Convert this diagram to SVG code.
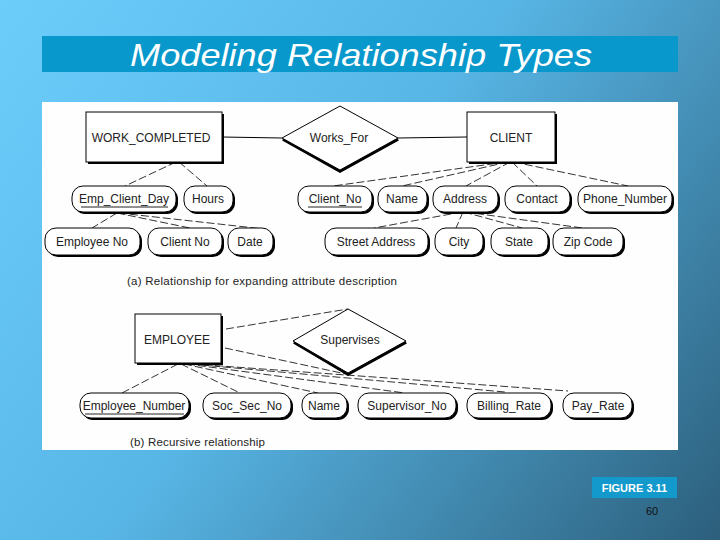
<svg xmlns="http://www.w3.org/2000/svg" width="720" height="540" viewBox="0 0 720 540">
<defs>
<linearGradient id="bg" x1="0" y1="0" x2="720" y2="540" gradientUnits="userSpaceOnUse">
<stop offset="0" stop-color="#6ccdfb"/>
<stop offset="0.45" stop-color="#58b6e6"/>
<stop offset="1" stop-color="#2c5f7c"/>
</linearGradient>
<style>
.t{font-family:"Liberation Sans",Arial,sans-serif;font-size:12px;fill:#222;text-anchor:middle}
.cap{font-family:"Liberation Sans",Arial,sans-serif;font-size:11.5px;fill:#222}
.sh{fill:#000}
.bx{fill:#fff;stroke:#000;stroke-width:1}
.ul{stroke:#222;stroke-width:1}
.c{stroke:#000;stroke-width:0.8;fill:none;stroke-dasharray:8 3}
.s{stroke:#000;stroke-width:1;fill:none}
.dsh{fill:none;stroke:#000;stroke-width:3.5;stroke-linejoin:miter}
</style>
</defs>
<rect x="0" y="0" width="720" height="540" fill="url(#bg)"/>
<rect x="42" y="36" width="636" height="36" fill="#0898cc"/>
<text x="361" y="66" font-family="'Liberation Sans',Arial,sans-serif" font-style="italic" font-size="32" fill="#fff" text-anchor="middle" textLength="462" lengthAdjust="spacingAndGlyphs">Modeling Relationship Types</text>
<rect x="42" y="102" width="636" height="348" fill="#fefefe"/>

<g id="connectors">
<line class="s" x1="222" y1="137" x2="282" y2="138"/>
<line class="s" x1="398" y1="138" x2="467" y2="137"/>
<line class="c" x1="176" y1="162" x2="125" y2="186"/>
<line class="c" x1="179" y1="162" x2="207" y2="186"/>
<line class="c" x1="117" y1="213" x2="92" y2="228"/>
<line class="c" x1="117" y1="213" x2="190" y2="228"/>
<line class="c" x1="119" y1="213" x2="264" y2="229"/>
<line class="c" x1="506" y1="162" x2="333" y2="186"/>
<line class="c" x1="508" y1="162" x2="402" y2="186"/>
<line class="c" x1="510" y1="162" x2="466" y2="186"/>
<line class="c" x1="512" y1="162" x2="537" y2="186"/>
<line class="c" x1="514" y1="162" x2="628" y2="186"/>
<line class="c" x1="462" y1="212" x2="374" y2="228"/>
<line class="c" x1="463" y1="212" x2="456" y2="228"/>
<line class="c" x1="464" y1="212" x2="522" y2="228"/>
<line class="c" x1="465" y1="212" x2="590" y2="229"/>
<line class="c" x1="226" y1="329" x2="348" y2="309"/>
<line class="c" x1="225" y1="348" x2="346" y2="374"/>
<line class="c" x1="178" y1="364" x2="122" y2="393"/>
<line class="c" x1="181" y1="364" x2="240" y2="393"/>
<line class="c" x1="184" y1="364" x2="318" y2="393"/>
<line class="c" x1="187" y1="364" x2="405" y2="393"/>
<line class="c" x1="190" y1="364" x2="505" y2="392"/>
<line class="c" x1="193" y1="364" x2="568" y2="391"/>
</g>

<g id="work-completed">
<rect class="sh" x="88" y="114" width="136" height="50"/>
<rect class="bx" x="86" y="112" width="136" height="50"/>
<text class="t" x="151" y="142">WORK_COMPLETED</text>
</g>
<g id="works-for">
<polyline class="dsh" points="283,139 340,171 398,139"/>
<polygon class="bx" points="282,138 340,106 398,138 340,170"/>
<text class="t" x="339" y="142">Works_For</text>
</g>
<g id="client">
<rect class="sh" x="469" y="114" width="88" height="50"/>
<rect class="bx" x="467" y="112" width="88" height="50"/>
<text class="t" x="511" y="142">CLIENT</text>
</g>

<g id="a-emp-client-day"><rect class="sh" x="74" y="188" width="104" height="26" rx="11"/><rect class="bx" x="72" y="186" width="104" height="26" rx="11"/><text class="t" x="124" y="203">Emp_Client_Day</text><line class="ul" x1="81" y1="207" x2="168" y2="207"/></g>
<g id="a-hours"><rect class="sh" x="186" y="188" width="49" height="26" rx="11"/><rect class="bx" x="184" y="186" width="49" height="26" rx="11"/><text class="t" x="208" y="203">Hours</text></g>
<g id="a-client-no"><rect class="sh" x="300" y="188" width="74" height="26" rx="11"/><rect class="bx" x="298" y="186" width="74" height="26" rx="11"/><text class="t" x="335" y="203">Client_No</text><line class="ul" x1="308" y1="207" x2="362" y2="207"/></g>
<g id="a-name"><rect class="sh" x="380" y="188" width="49" height="26" rx="11"/><rect class="bx" x="378" y="186" width="49" height="26" rx="11"/><text class="t" x="402" y="203">Name</text></g>
<g id="a-address"><rect class="sh" x="435" y="188" width="65" height="26" rx="11"/><rect class="bx" x="433" y="186" width="65" height="26" rx="11"/><text class="t" x="465" y="203">Address</text></g>
<g id="a-contact"><rect class="sh" x="507" y="188" width="65" height="26" rx="11"/><rect class="bx" x="505" y="186" width="65" height="26" rx="11"/><text class="t" x="537" y="203">Contact</text></g>
<g id="a-phone-number"><rect class="sh" x="580" y="188" width="94" height="26" rx="11"/><rect class="bx" x="578" y="186" width="94" height="26" rx="11"/><text class="t" x="625" y="203">Phone_Number</text></g>

<g id="a-employee-no"><rect class="sh" x="47" y="230" width="95" height="27" rx="11"/><rect class="bx" x="45" y="228" width="95" height="27" rx="11"/><text class="t" x="92" y="246">Employee  No</text></g>
<g id="a-client-no2"><rect class="sh" x="150" y="230" width="74" height="27" rx="11"/><rect class="bx" x="148" y="228" width="74" height="27" rx="11"/><text class="t" x="185" y="246">Client  No</text></g>
<g id="a-date"><rect class="sh" x="230" y="230" width="45" height="27" rx="11"/><rect class="bx" x="228" y="228" width="45" height="27" rx="11"/><text class="t" x="250" y="246">Date</text></g>
<g id="a-street-address"><rect class="sh" x="327" y="230" width="103" height="27" rx="11"/><rect class="bx" x="325" y="228" width="103" height="27" rx="11"/><text class="t" x="376" y="246">Street  Address</text></g>
<g id="a-city"><rect class="sh" x="437" y="230" width="48" height="27" rx="11"/><rect class="bx" x="435" y="228" width="48" height="27" rx="11"/><text class="t" x="459" y="246">City</text></g>
<g id="a-state"><rect class="sh" x="493" y="230" width="57" height="27" rx="11"/><rect class="bx" x="491" y="228" width="57" height="27" rx="11"/><text class="t" x="519" y="246">State</text></g>
<g id="a-zip-code"><rect class="sh" x="555" y="230" width="70" height="27" rx="11"/><rect class="bx" x="553" y="228" width="70" height="27" rx="11"/><text class="t" x="588" y="246">Zip  Code</text></g>

<text class="cap" x="127" y="285" textLength="270" lengthAdjust="spacing">(a)  Relationship for expanding attribute description</text>

<g id="employee">
<rect class="sh" x="137" y="316" width="86" height="49"/>
<rect class="bx" x="135" y="314" width="86" height="49"/>
<text class="t" x="177" y="344">EMPLOYEE</text>
</g>
<g id="supervises">
<polyline class="dsh" points="294,342 348,374 406,342"/>
<polygon class="bx" points="293,341 348,309 406,341 348,373"/>
<text class="t" x="350" y="344">Supervises</text>
</g>

<g id="b-employee-number"><rect class="sh" x="82" y="395" width="109" height="25" rx="11"/><rect class="bx" x="80" y="393" width="109" height="25" rx="11"/><text class="t" x="134" y="410">Employee_Number</text><line class="ul" x1="85" y1="414" x2="184" y2="414"/></g>
<g id="b-soc-sec-no"><rect class="sh" x="205" y="395" width="88" height="25" rx="11"/><rect class="bx" x="203" y="393" width="88" height="25" rx="11"/><text class="t" x="247" y="410">Soc_Sec_No</text></g>
<g id="b-name"><rect class="sh" x="304" y="395" width="45" height="25" rx="11"/><rect class="bx" x="302" y="393" width="45" height="25" rx="11"/><text class="t" x="324" y="410">Name</text></g>
<g id="b-supervisor-no"><rect class="sh" x="360" y="395" width="98" height="25" rx="11"/><rect class="bx" x="358" y="393" width="98" height="25" rx="11"/><text class="t" x="407" y="410">Supervisor_No</text></g>
<g id="b-billing-rate"><rect class="sh" x="469" y="395" width="84" height="25" rx="11"/><rect class="bx" x="467" y="393" width="84" height="25" rx="11"/><text class="t" x="509" y="410">Billing_Rate</text></g>
<g id="b-pay-rate"><rect class="sh" x="565" y="395" width="69" height="25" rx="11"/><rect class="bx" x="563" y="393" width="69" height="25" rx="11"/><text class="t" x="598" y="410">Pay_Rate</text></g>

<text class="cap" x="130" y="446" textLength="135" lengthAdjust="spacing">(b)  Recursive relationship</text>

<rect x="592" y="477" width="85" height="21" fill="#1399cc"/>
<text x="634.5" y="492" font-family="'Liberation Sans',Arial,sans-serif" font-size="11" font-weight="bold" fill="#fff" text-anchor="middle">FIGURE 3.11</text>
<text x="652" y="515" font-family="'Liberation Sans',Arial,sans-serif" font-size="11" fill="#111" text-anchor="middle">60</text>
</svg>
